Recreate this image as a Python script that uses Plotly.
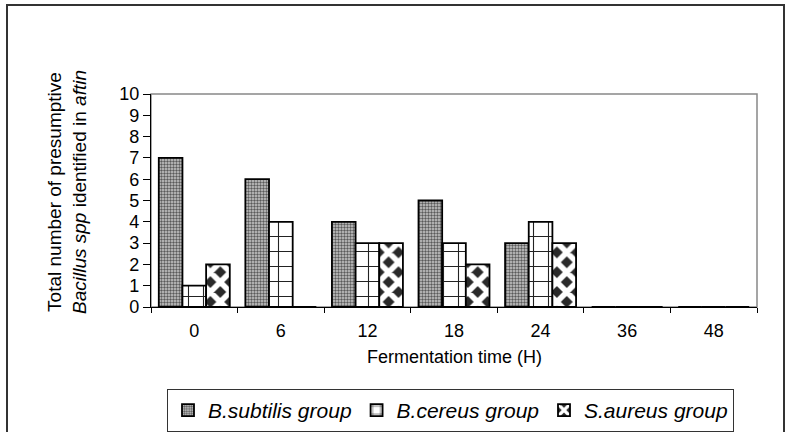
import plotly.graph_objects as go

# Fermentation time points (hours) and counts of presumptive Bacillus isolates
times = ["0", "6", "12", "18", "24", "36", "48"]
subtilis = [7, 6, 4, 5, 3, 0, 0]
cereus = [1, 4, 3, 3, 4, 0, 0]
aureus = [2, 0, 3, 2, 3, 0, 0]
series_names = ["<i>B.subtilis group</i>", "<i>B.cereus group</i>", "<i>S.aureus group</i>"]
y_ticks = list(range(0, 11))

FONT = "Liberation Sans, Arial, sans-serif"
W, H = 789, 432
L, R, T, B = 151, 32, 94, 125
pw, ph = W - L - R, H - T - B


def px_x(x):
    return (x - L) / pw


def px_y(y):
    return (H - B - y) / ph


patterns = [
    dict(shape=".", fgcolor="#5a5a5a", bgcolor="#cccccc", size=3, solidity=0.5, fgopacity=1),
    dict(shape="+", fgcolor="#222222", bgcolor="white", size=15, solidity=0.14, fgopacity=1),
    dict(shape="x", fgcolor="white", bgcolor="#2a2a2a", size=14, solidity=0.64, fgopacity=1),
]

fig = go.Figure()
for name, vals, pat in zip(series_names, [subtilis, cereus, aureus], patterns):
    fig.add_trace(go.Bar(
        x=times, y=vals, name=name,
        marker=dict(color=pat["bgcolor"], pattern=pat,
                    line=dict(color="black", width=1.8)),
    ))

fig.update_layout(
    width=W, height=H,
    margin=dict(l=L, r=R, t=T, b=B, autoexpand=False),
    paper_bgcolor="white", plot_bgcolor="white",
    barmode="group", bargap=0.18, bargroupgap=0,
    font=dict(family=FONT, size=18, color="black"),
    showlegend=True,
    legend=dict(
        orientation="h", x=px_x(167), y=px_y(389), xanchor="left", yanchor="top",
        bordercolor="#333333", borderwidth=1, bgcolor="white",
        font=dict(family=FONT, size=21), itemwidth=30,
        traceorder="normal",
    ),
    xaxis=dict(
        type="category", showgrid=False, showline=True, linecolor="black", linewidth=1.2,
        ticks="outside", ticklen=5, tickcolor="black", tickson="boundaries",
        ticklabelstandoff=7, tickfont=dict(size=18),
    ),
    yaxis=dict(
        range=[0, 10], tickvals=y_ticks, showgrid=False, showline=True,
        linecolor="black", linewidth=1.2, ticks="outside", ticklen=7,
        tickcolor="black", tickfont=dict(size=18), zeroline=False,
    ),
    shapes=[
        # plot-area frame (top and right edges)
        dict(type="rect", xref="paper", yref="paper", x0=0, x1=1, y0=0, y1=1,
             line=dict(color="#888888", width=1.5), layer="below"),
        # outer chart frame
        dict(type="rect", xref="paper", yref="paper",
             x0=px_x(7), x1=px_x(784), y0=px_y(445), y1=px_y(5),
             line=dict(color="#333333", width=2)),
    ],
    annotations=[
        dict(text="Total number of presumptive<br><i>Bacillus spp</i> identified in <i>aftin</i>",
             xref="paper", yref="paper", x=px_x(67), y=px_y(192),
             xanchor="center", yanchor="middle", textangle=-90, showarrow=False,
             font=dict(family=FONT, size=19)),
        dict(text="Fermentation time (H)", xref="paper", yref="paper",
             x=0.5, y=px_y(357), xanchor="center", yanchor="middle",
             showarrow=False, font=dict(family=FONT, size=18)),
    ],
)

fig.write_html("out.html")
